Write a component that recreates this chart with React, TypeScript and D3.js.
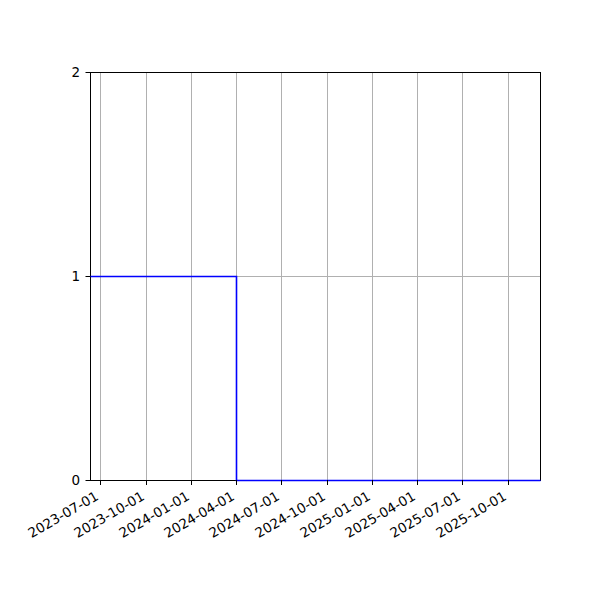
import React, { useEffect, useRef } from 'react'
import * as d3 from 'd3'

// step data (post): value holds until next date
const stepDates = ['2023-06-11', '2024-04-01', '2025-12-05']
const stepValues = [1, 0, 0]

const tickDates = [
    '2023-07-01', '2023-10-01', '2024-01-01', '2024-04-01', '2024-07-01',
    '2024-10-01', '2025-01-01', '2025-04-01', '2025-07-01', '2025-10-01',
]
const yTicks = [0, 1, 2]

const parse = d3.utcParse('%Y-%m-%d')

export default function App() {
    const svgRef = useRef<SVGSVGElement>(null)
    const width = 600
    const height = 600

    useEffect(() => {
        if (!svgRef.current) return
        const svg = d3.select(svgRef.current)
        svg.selectAll('*').remove()

        const left = 90, right = 540, top = 72, bottom = 480
        const font = 'DejaVu Sans, sans-serif'
        const fs = 13.5

        const dates = stepDates.map(d => parse(d) as Date)
        const x = d3.scaleUtc().domain([dates[0], dates[dates.length - 1]]).range([left, right])
        const y = d3.scaleLinear().domain([0, 2]).range([bottom, top])

        svg.append('rect').attr('width', width).attr('height', height).attr('fill', '#fff')

        // grid
        const grid = svg.append('g').attr('stroke', '#b0b0b0').attr('stroke-width', 1)
        tickDates.forEach(t => {
            const px = Math.round(x(parse(t) as Date)) + 0.5
            grid.append('line').attr('x1', px).attr('x2', px).attr('y1', top).attr('y2', bottom)
        })
        yTicks.forEach(t => {
            grid.append('line').attr('x1', left).attr('x2', right).attr('y1', y(t) + 0.5).attr('y2', y(t) + 0.5)
        })

        // spines
        svg.append('rect')
            .attr('x', left + 0.5).attr('y', top + 0.5)
            .attr('width', right - left).attr('height', bottom - top)
            .attr('fill', 'none').attr('stroke', '#000').attr('stroke-width', 1)

        // step line
        const pts = dates.map((d, i) => [d, stepValues[i]] as [Date, number])
        const line = d3.line<[Date, number]>()
            .x(d => Math.round(x(d[0])) + 0.5)
            .y(d => y(d[1]) + 0.5)
            .curve(d3.curveStepAfter)
        svg.append('path')
            .datum(pts)
            .attr('d', line)
            .attr('fill', 'none')
            .attr('stroke', '#0000ff')
            .attr('stroke-width', 1.6)

        // x ticks
        const xt = svg.append('g')
        tickDates.forEach(t => {
            const px = Math.round(x(parse(t) as Date)) + 0.5
            xt.append('line').attr('x1', px).attr('x2', px).attr('y1', bottom).attr('y2', bottom + 5)
                .attr('stroke', '#000').attr('stroke-width', 1)
            xt.append('text')
                .attr('transform', `translate(${px - 1},${bottom + 4.9 + 4.9 + 9.2}) rotate(-30)`)
                .attr('text-anchor', 'end')
                .attr('font-family', font)
                .attr('font-size', fs)
                .attr('fill', '#000')
                .text(t)
        })

        // y ticks
        const yt = svg.append('g')
        yTicks.forEach(t => {
            const py = y(t) + 0.5
            yt.append('line').attr('x1', left - 4.5).attr('x2', left).attr('y1', py).attr('y2', py)
                .attr('stroke', '#000').attr('stroke-width', 1)
            yt.append('text')
                .attr('x', left - 4.9 - 4.9)
                .attr('y', py)
                .attr('dy', '0.35em')
                .attr('text-anchor', 'end')
                .attr('font-family', font)
                .attr('font-size', fs)
                .attr('fill', '#000')
                .text(String(t))
        })
    }, [])

    return (
        <svg
            ref={svgRef}
            width={width}
            height={height}
            style={{ position: 'absolute', left: 0, top: 0 }}
        />
    )
}
